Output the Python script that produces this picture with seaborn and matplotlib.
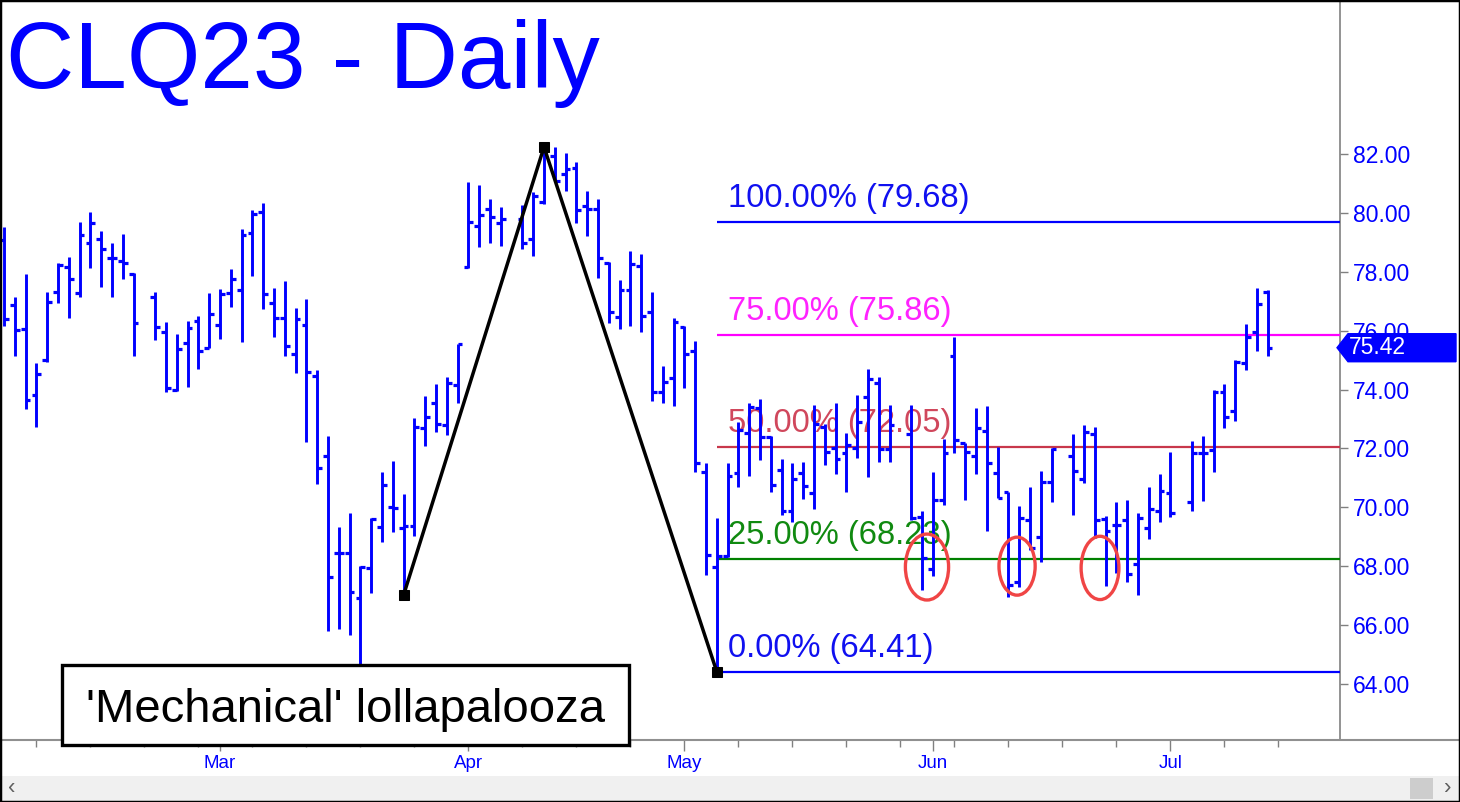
import numpy as np
import pandas as pd
import matplotlib
matplotlib.use("Agg")
import matplotlib.pyplot as plt
import seaborn as sns
from matplotlib.patches import Ellipse, Rectangle, Polygon
from matplotlib.lines import Line2D

# ---------------- data ----------------
dates = [
    "2023-02-01", "2023-02-02", "2023-02-03", "2023-02-06", "2023-02-07", "2023-02-08", "2023-02-09",
    "2023-02-10", "2023-02-13", "2023-02-14", "2023-02-15", "2023-02-16", "2023-02-17", "2023-02-21",
    "2023-02-22", "2023-02-23", "2023-02-24", "2023-02-27", "2023-02-28", "2023-03-01", "2023-03-02",
    "2023-03-03", "2023-03-06", "2023-03-07", "2023-03-08", "2023-03-09", "2023-03-10", "2023-03-13",
    "2023-03-14", "2023-03-15", "2023-03-16", "2023-03-17", "2023-03-20", "2023-03-21", "2023-03-22",
    "2023-03-23", "2023-03-24", "2023-03-27", "2023-03-28", "2023-03-29", "2023-03-30", "2023-03-31",
    "2023-04-03", "2023-04-04", "2023-04-05", "2023-04-06", "2023-04-10", "2023-04-11", "2023-04-12",
    "2023-04-13", "2023-04-14", "2023-04-17", "2023-04-18", "2023-04-19", "2023-04-20", "2023-04-21",
    "2023-04-24", "2023-04-25", "2023-04-26", "2023-04-27", "2023-04-28", "2023-05-01", "2023-05-02",
    "2023-05-03", "2023-05-04", "2023-05-05", "2023-05-08", "2023-05-09", "2023-05-10", "2023-05-11",
    "2023-05-12", "2023-05-15", "2023-05-16", "2023-05-17", "2023-05-18", "2023-05-19", "2023-05-22",
    "2023-05-23", "2023-05-24", "2023-05-25", "2023-05-26", "2023-05-30", "2023-05-31", "2023-06-01",
    "2023-06-02", "2023-06-05", "2023-06-06", "2023-06-07", "2023-06-08", "2023-06-09", "2023-06-12",
    "2023-06-13", "2023-06-14", "2023-06-15", "2023-06-16", "2023-06-20", "2023-06-21", "2023-06-22",
    "2023-06-23", "2023-06-26", "2023-06-27", "2023-06-28", "2023-06-29", "2023-06-30", "2023-07-03",
    "2023-07-05", "2023-07-06", "2023-07-07", "2023-07-10", "2023-07-11", "2023-07-12", "2023-07-13",
    "2023-07-14",
]
opens = [
    79.08, 76.87, 76.06, 73.81, 75.00, 77.32, 78.17, 77.29, 78.97, 79.11, 78.48, 78.37, 77.91, 77.15,
    75.97, 73.98, 75.57, 76.34, 75.40, 76.18, 77.27, 77.38, 79.33, 80.02, 76.95, 76.44, 75.21, 76.19,
    74.46, 71.74, 68.46, 68.46, 66.91, 67.93, 69.34, 70.00, 69.30, 69.37, 72.68, 73.55, 72.79, 74.15,
    78.15, 79.55, 80.13, 79.64, 79.78, 79.10, 80.38, 81.93, 81.31, 81.51, 80.25, 80.13, 78.30, 76.45,
    77.38, 78.21, 76.64, 73.90, 74.38, 76.13, 75.30, 71.21, 67.98, 68.34, 71.18, 72.53, 73.36, 72.40,
    71.27, 69.87, 71.18, 70.50, 72.74, 72.00, 71.83, 72.00, 73.73, 74.23, 71.97, 72.50, 69.68, 67.89,
    70.25, 75.13, 72.17, 71.74, 72.60, 71.18, 70.53, 67.47, 69.57, 68.98, 70.85, 71.74, 70.95, 72.49,
    69.59, 69.40, 69.57, 68.06, 69.28, 69.88, 70.47, 70.19, 71.83, 71.96, 73.92, 73.26, 74.90, 75.94,
    77.30,
]
highs = [
    79.53, 77.15, 77.92, 74.89, 77.32, 78.29, 78.51, 79.68, 80.04, 79.40, 78.97, 79.28, 77.95, 77.32,
    76.30, 75.89, 76.34, 76.50, 77.29, 77.41, 78.10, 79.44, 80.10, 80.35, 77.44, 77.70, 76.76, 77.07,
    74.66, 72.42, 69.32, 69.79, 68.01, 69.62, 71.21, 71.57, 70.44, 73.02, 73.78, 74.19, 74.44, 75.54,
    81.06, 80.95, 80.46, 80.21, 80.26, 80.72, 82.24, 82.25, 82.05, 81.72, 80.74, 80.46, 78.34, 77.72,
    78.72, 78.59, 77.32, 74.80, 76.42, 76.16, 75.66, 71.49, 69.62, 71.52, 72.91, 73.53, 73.67, 72.42,
    71.63, 71.52, 71.53, 73.47, 72.83, 73.53, 72.51, 73.81, 74.70, 74.41, 73.47, 73.47, 69.88, 71.21,
    72.31, 75.77, 72.19, 73.38, 73.44, 72.06, 70.53, 70.04, 70.70, 71.23, 72.00, 72.48, 72.79, 72.72,
    69.70, 70.19, 70.25, 69.79, 70.68, 71.13, 71.87, 72.26, 72.42, 73.98, 74.20, 75.00, 76.22, 77.44,
    77.37,
]
lows = [
    76.17, 75.15, 73.35, 72.74, 74.95, 76.95, 76.42, 77.15, 78.12, 77.47, 77.13, 77.75, 75.15, 75.68,
    73.93, 73.96, 74.10, 74.70, 75.40, 75.73, 76.79, 75.63, 77.87, 76.73, 75.80, 75.15, 74.55, 72.21,
    70.79, 65.81, 65.85, 65.66, 64.50, 67.08, 68.83, 69.17, 67.02, 69.02, 72.08, 72.57, 72.46, 73.55,
    78.12, 78.85, 78.97, 78.89, 78.77, 78.54, 80.30, 81.06, 80.74, 79.67, 79.21, 77.80, 76.25, 76.04,
    76.16, 75.97, 73.61, 73.55, 73.44, 74.06, 71.20, 67.70, 64.41, 68.32, 70.70, 71.07, 71.61, 70.53,
    69.74, 69.51, 70.27, 69.93, 71.44, 71.12, 70.53, 71.66, 71.04, 71.55, 71.55, 69.57, 67.19, 67.67,
    70.08, 71.83, 70.25, 71.12, 69.21, 70.30, 66.96, 67.30, 68.55, 68.15, 70.19, 69.74, 70.81, 68.95,
    67.33, 67.76, 67.47, 67.02, 68.91, 69.51, 69.66, 69.87, 70.20, 71.20, 72.68, 72.94, 74.66, 75.31,
    75.13,
]
closes = [
    76.38, 76.02, 73.64, 74.52, 76.98, 78.23, 77.74, 79.25, 79.65, 78.77, 78.46, 78.29, 76.25, 76.14,
    74.04, 75.37, 76.10, 75.32, 76.55, 77.24, 77.77, 79.25, 79.95, 77.24, 76.44, 75.49, 76.38, 74.58,
    71.32, 67.64, 68.46, 67.11, 67.98, 69.59, 70.76, 69.96, 69.35, 72.72, 73.08, 72.83, 74.21, 75.54,
    79.70, 79.93, 79.85, 79.79, 78.97, 80.59, 82.14, 81.09, 81.48, 80.10, 80.13, 78.48, 76.64, 77.38,
    78.26, 76.51, 73.93, 74.27, 76.28, 75.21, 71.50, 68.38, 68.36, 71.07, 72.62, 73.42, 72.40, 70.76,
    69.87, 70.96, 70.72, 72.83, 71.89, 71.63, 72.11, 72.89, 74.35, 71.97, 72.79, 69.65, 68.27, 70.25,
    71.86, 72.30, 71.89, 72.68, 71.49, 70.33, 67.36, 69.62, 68.60, 70.85, 71.98, 71.24, 72.55, 69.57,
    69.21, 69.40, 67.73, 69.62, 69.93, 70.56, 69.82, 71.83, 71.83, 73.92, 73.07, 74.92, 75.80, 76.92,
    75.42,
]

fib_names = ["100.00%", "75.00%", "50.00%", "25.00%", "0.00%"]
fib_levels = [79.68, 75.86, 72.05, 68.23, 64.41]
fib_line_colors = ["#0000ff", "#ff00ff", "#c8374b", "#008000", "#0000ff"]
fib_text_colors = ["#1010f0", "#ff22ff", "#d0475c", "#108a10", "#1010f0"]
fib_start = "2023-05-04"

abc_dates = ["2023-03-24", "2023-04-12", "2023-05-04"]
abc_prices = [67.02, 82.24, 64.41]

month_dates = ["2023-03-01", "2023-04-03", "2023-05-01", "2023-06-01", "2023-07-03"]
month_labels = ["Mar", "Apr", "May", "Jun", "Jul"]
price_ticks = [64, 66, 68, 70, 72, 74, 76, 78, 80, 82]
last_price = 75.42
title_text = "CLQ23 - Daily"
note_text = "'Mechanical' lollapalooza"

# ---------------- helpers ----------------
ORIGIN = "2023-03-01"
def bpos(d):
    return np.busday_count(ORIGIN, np.array(d, dtype="datetime64[D]"))

W, H = 1460, 802
def fx(px):
    return px / W
def fy(py):
    return 1 - py / H

df = pd.DataFrame({"date": dates, "open": opens, "high": highs, "low": lows, "close": closes})
df["x"] = bpos(df["date"].tolist())

sns.set_theme(style="white")
plt.rcParams["font.family"] = ["Liberation Sans", "DejaVu Sans"]

fig = plt.figure(figsize=(W / 100, H / 100), dpi=100)
fig.patch.set_facecolor("white")
ax = fig.add_axes([0, fy(740), fx(1340), 740 / H])
ax.set_facecolor("white")

BLUE = "#0000ff"
TL = 0.45
# OHLC bars
ax.vlines(df["x"], df["low"], df["high"], color=BLUE, lw=2.1, zorder=4)
ax.hlines(df["open"], df["x"] - TL, df["x"], color=BLUE, lw=2.3, zorder=4)
ax.hlines(df["close"], df["x"], df["x"] + TL, color=BLUE, lw=2.3, zorder=4)

xmin, xmax = -20.37, 103.7
ax.set_xlim(xmin, xmax)
ax.set_ylim(62.095, 87.231)

# Fibonacci levels
x_fib = bpos(fib_start)
for name, lvl, lc, tc in zip(fib_names, fib_levels, fib_line_colors, fib_text_colors):
    ax.hlines(lvl, x_fib, xmax, color=lc, lw=1.6, zorder=3)
    ax.text(x_fib + 1.05, lvl + 0.80, f"{name} ({lvl:.2f})", color=tc, fontsize=23.6,
            ha="left", va="center", zorder=2)

# ABC path
abc_x = bpos(abc_dates)
sns.lineplot(x=abc_x, y=abc_prices, sort=False, color="black", lw=2.5, ax=ax,
             marker="s", markersize=6.5, markeredgecolor="black", zorder=6)

# red ellipses
for cx, cy, w, h in [(65.46, 67.97, 4.0, 2.24), (73.8, 68.0, 3.35, 1.97), (81.48, 67.94, 3.5, 2.15)]:
    ax.add_patch(Ellipse((cx, cy), w, h, fill=False, edgecolor="#f04545", lw=2.4, zorder=7))

# axes styling
for s in ["left", "top"]:
    ax.spines[s].set_visible(False)
ax.spines["right"].set_color("#808080")
ax.spines["right"].set_linewidth(1.2)
ax.spines["bottom"].set_visible(False)

ax.yaxis.tick_right()
ax.set_yticks(price_ticks)
ax.set_yticklabels([f"{v:.2f}" for v in price_ticks], color=BLUE, fontsize=16.5)
ax.tick_params(axis="y", which="major", direction="out", length=6, width=1, color="#808080", pad=3, right=True)

ax.set_xticks(bpos(month_dates))
ax.set_xticklabels(month_labels, color=BLUE, fontsize=13.5)
mondays = pd.date_range("2023-02-06", "2023-07-17", freq="W-MON").strftime("%Y-%m-%d").tolist()
ax.set_xticks(bpos(mondays), minor=True)
ax.tick_params(axis="x", which="major", direction="out", length=8, width=1, color="#808080", pad=3, bottom=True)
ax.tick_params(axis="x", which="minor", direction="out", length=5, width=1, color="#808080", bottom=True)
ax.grid(False)

# bottom axis line across the full width
fig.add_artist(Line2D([0, 1], [fy(740), fy(740)], transform=fig.transFigure, color="#909090", lw=1.5))

# title
fig.text(fx(6), fy(88), title_text, color=BLUE, fontsize=68, ha="left", va="baseline")

# note box
fig.add_artist(Rectangle((fx(62), fy(745)), fx(629) - fx(62), (745 - 665) / H,
                         transform=fig.transFigure, facecolor="white", edgecolor="black", lw=2.4, zorder=10))
fig.text(fx(345), fy(722), note_text, color="black", fontsize=34, ha="center", va="baseline", zorder=11)

# last-price tag
tag_y = 154 + (82 - last_price) * 29.44
pts = [(1337, tag_y), (1348, tag_y - 14), (1456, tag_y - 14), (1456, tag_y + 14), (1348, tag_y + 14)]
fig.add_artist(Polygon([(fx(a), fy(b)) for a, b in pts], closed=True, transform=fig.transFigure,
                       facecolor=BLUE, edgecolor=BLUE, zorder=10))
fig.text(fx(1349), fy(tag_y), f"{last_price:.2f}", color="white", fontsize=16.5, ha="left",
         va="center", zorder=11)

# scrollbar
fig.add_artist(Rectangle((0, 0), 1, (802 - 776) / H, transform=fig.transFigure,
                         facecolor="#f0f0f0", edgecolor="none", zorder=1))
fig.add_artist(Rectangle((fx(1410), fy(799)), fx(1433) - fx(1410), (799 - 778) / H,
                         transform=fig.transFigure, facecolor="#cdcdcd", edgecolor="none", zorder=2))
fig.text(fx(12), fy(789), "\u2039", color="#606060", fontsize=16, ha="center", va="center")
fig.text(fx(1448), fy(789), "\u203a", color="#606060", fontsize=16, ha="center", va="center")

# outer frame
fig.add_artist(Rectangle((0, 0), 1, 1, transform=fig.transFigure, fill=False,
                         edgecolor="black", lw=2.5, zorder=20))

fig.savefig("out.png", dpi=100)
